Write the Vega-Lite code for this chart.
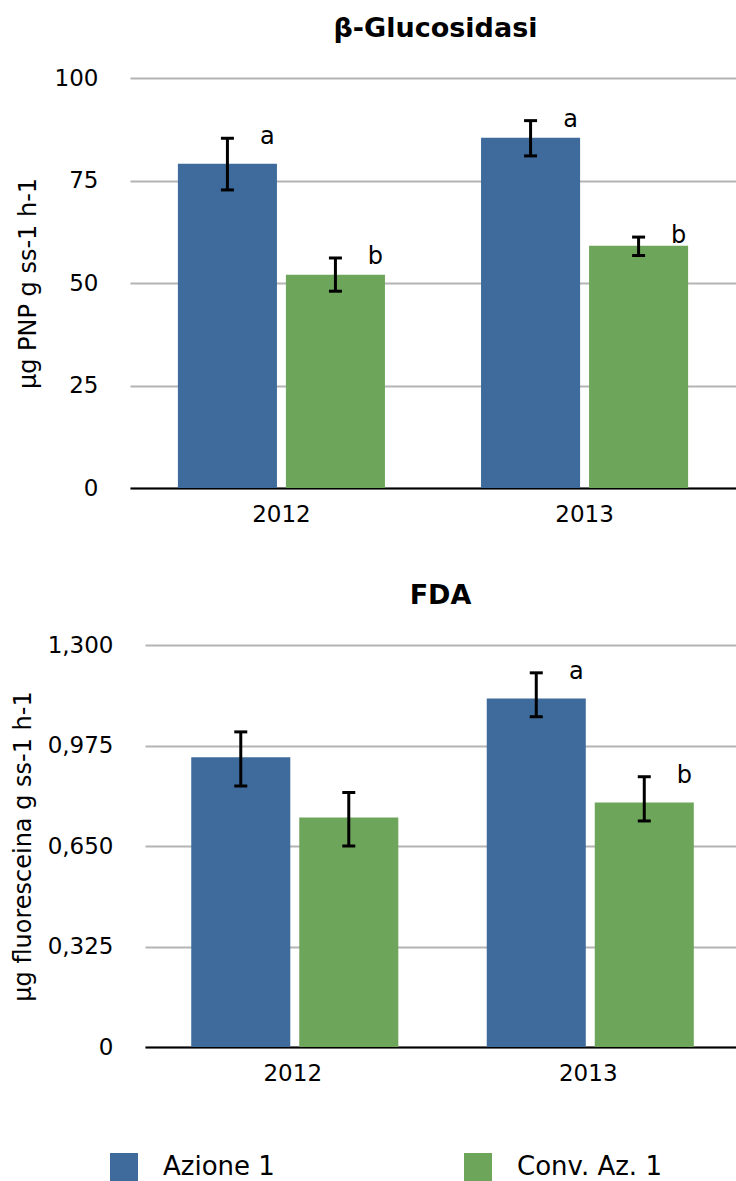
{
  "$schema": "https://vega.github.io/schema/vega-lite/v6.json",
  "padding": {"left": 11, "top": 15, "right": 0, "bottom": 0},
  "autosize": {"type": "pad"},
  "config": {
    "font": "DejaVu Sans",
    "view": {"stroke": null},
    "title": {"fontSize": 27, "fontWeight": "bold", "color": "black", "font": "DejaVu Sans", "offset": 24},
    "axisX": {"domainColor": "black", "domainWidth": 2, "ticks": false, "labelFontSize": 23, "labelColor": "black", "labelPadding": 15, "labelAngle": 0, "title": null, "grid": false},
    "axisY": {"domain": false, "ticks": false, "grid": true, "gridColor": "#b4b4b4", "gridWidth": 2, "labelFontSize": 23, "labelColor": "black", "labelPadding": 32, "titleFontSize": 24, "titleFontWeight": "normal", "titleColor": "black", "titlePadding": 14},
    "legend": {"orient": "none", "legendX": -35, "legendY": 1075, "direction": "horizontal", "title": null, "symbolType": "square", "symbolSize": 784, "symbolStrokeWidth": 0, "symbolOpacity": 1, "labelFontSize": 26, "labelColor": "black", "labelOffset": 25, "columnPadding": 189, "labelLimit": 400, "padding": 0}
  },
  "datasets": {
    "d": [
      {"panel": "glu", "year": "2012", "group": "Azione 1", "value": 79.1, "lo": 72.7, "hi": 85.3, "letter": "a"},
      {"panel": "glu", "year": "2012", "group": "Conv. Az. 1", "value": 52.0, "lo": 48.0, "hi": 56.1, "letter": "b"},
      {"panel": "glu", "year": "2013", "group": "Azione 1", "value": 85.4, "lo": 81.0, "hi": 89.6, "letter": "a"},
      {"panel": "glu", "year": "2013", "group": "Conv. Az. 1", "value": 59.1, "lo": 56.7, "hi": 61.2, "letter": "b"},
      {"panel": "fda", "year": "2012", "group": "Azione 1", "value": 0.937, "lo": 0.844, "hi": 1.019, "letter": ""},
      {"panel": "fda", "year": "2012", "group": "Conv. Az. 1", "value": 0.742, "lo": 0.650, "hi": 0.823, "letter": ""},
      {"panel": "fda", "year": "2013", "group": "Azione 1", "value": 1.127, "lo": 1.068, "hi": 1.210, "letter": "a"},
      {"panel": "fda", "year": "2013", "group": "Conv. Az. 1", "value": 0.791, "lo": 0.731, "hi": 0.874, "letter": "b"}
    ]
  },
  "columns": 1,
  "spacing": 56,
  "concat": [
    {
      "title": {"text": "β-Glucosidasi", "dx": -5},
      "width": 591,
      "height": 410,
      "data": {"name": "d"},
      "transform": [{"filter": "datum.panel == 'glu'"}],
      "encoding": {
        "x": {"field": "year", "type": "nominal", "scale": {"range": [-15, 591], "paddingInner": 0.317, "paddingOuter": 0.158}},
        "xOffset": {"field": "group", "type": "nominal", "sort": ["Azione 1", "Conv. Az. 1"], "scale": {"paddingInner": 0.083, "paddingOuter": 0}}
      },
      "layer": [
        {
          "mark": {"type": "bar"},
          "encoding": {
            "y": {"field": "value", "type": "quantitative", "scale": {"domain": [0, 100]}, "axis": {"values": [0, 25, 50, 75, 100], "title": "μg PNP g ss-1 h-1", "labelPadding": 47}},
            "color": {"field": "group", "type": "nominal", "sort": ["Azione 1", "Conv. Az. 1"], "scale": {"domain": ["Azione 1", "Conv. Az. 1"], "range": ["#3e6b9c", "#6da55b"]}}
          }
        },
        {"mark": {"type": "rule", "color": "black", "strokeWidth": 3}, "encoding": {"y": {"field": "lo", "type": "quantitative"}, "y2": {"field": "hi"}}},
        {"mark": {"type": "tick", "color": "black", "thickness": 3, "size": 13, "opacity": 1}, "encoding": {"y": {"field": "lo", "type": "quantitative"}}},
        {"mark": {"type": "tick", "color": "black", "thickness": 3, "size": 13, "opacity": 1}, "encoding": {"y": {"field": "hi", "type": "quantitative"}}},
        {"mark": {"type": "text", "dx": 40, "dy": 6, "fontSize": 24, "baseline": "alphabetic", "color": "black"}, "encoding": {"y": {"field": "hi", "type": "quantitative"}, "text": {"field": "letter"}}}
      ]
    },
    {
      "title": {"text": "FDA"},
      "width": 591,
      "height": 402,
      "data": {"name": "d"},
      "transform": [{"filter": "datum.panel == 'fda'"}],
      "encoding": {
        "x": {"field": "year", "type": "nominal", "scale": {"paddingInner": 0.313, "paddingOuter": 0.1565}},
        "xOffset": {"field": "group", "type": "nominal", "sort": ["Azione 1", "Conv. Az. 1"], "scale": {"paddingInner": 0.085, "paddingOuter": 0}}
      },
      "layer": [
        {
          "mark": {"type": "bar"},
          "encoding": {
            "y": {"field": "value", "type": "quantitative", "scale": {"domain": [0, 1.3]}, "axis": {"values": [0, 0.325, 0.65, 0.975, 1.3], "labelExpr": "datum.value == 0 ? '0' : replace(format(datum.value, '.3f'), '.', ',')", "title": "μg fluoresceina g ss-1 h-1", "titlePadding": 12}},
            "color": {"field": "group", "type": "nominal", "sort": ["Azione 1", "Conv. Az. 1"], "scale": {"domain": ["Azione 1", "Conv. Az. 1"], "range": ["#3e6b9c", "#6da55b"]}}
          }
        },
        {"mark": {"type": "rule", "color": "black", "strokeWidth": 3}, "encoding": {"y": {"field": "lo", "type": "quantitative"}, "y2": {"field": "hi"}}},
        {"mark": {"type": "tick", "color": "black", "thickness": 3, "size": 13, "opacity": 1}, "encoding": {"y": {"field": "lo", "type": "quantitative"}}},
        {"mark": {"type": "tick", "color": "black", "thickness": 3, "size": 13, "opacity": 1}, "encoding": {"y": {"field": "hi", "type": "quantitative"}}},
        {"mark": {"type": "text", "dx": 40, "dy": 6, "fontSize": 24, "baseline": "alphabetic", "color": "black"}, "encoding": {"y": {"field": "hi", "type": "quantitative"}, "text": {"field": "letter"}}}
      ]
    }
  ]
}
